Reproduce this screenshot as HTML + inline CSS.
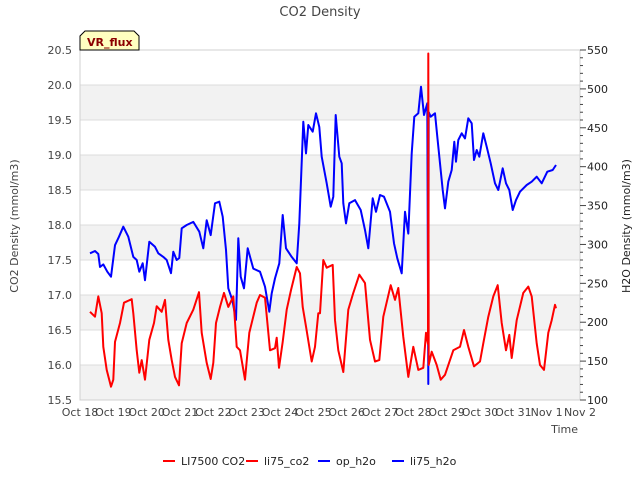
<!DOCTYPE html>
<html><head><meta charset="utf-8"><style>
body{margin:0;background:#fff;font-family:"Liberation Sans","DejaVu Sans",sans-serif}
svg text{font-family:"DejaVu Sans","Liberation Sans",sans-serif}
</style></head><body>
<svg id="chart" width="640" height="480" xmlns="http://www.w3.org/2000/svg">
<text x="320" y="16" text-anchor="middle" font-size="13" fill="#444">CO2 Density</text>
<g id="grid"></g><g id="series"></g><g id="axes"></g>
<text transform="translate(18,226) rotate(-90)" text-anchor="middle" font-size="11" fill="#444">CO2 Density (mmol/m3)</text>
<text transform="translate(630,226) rotate(-90)" text-anchor="middle" font-size="11" fill="#222">H2O Density (mmol/m3)</text>
<text x="578" y="433" text-anchor="end" font-size="11" fill="#444">Time</text>
<g><path d="M80,50 L80,36 L85,31 L134,31 L139,36 L139,50 Z" fill="#ffffc0" stroke="#000" stroke-width="1"/><text x="87" y="46" font-size="11" font-weight="bold" fill="#8b0000">VR_flux</text></g>
<g id="legend"></g>
</svg>
<script>
const xTickLabels=["Oct 18","Oct 19","Oct 20","Oct 21","Oct 22","Oct 23","Oct 24","Oct 25","Oct 26","Oct 27","Oct 28","Oct 29","Oct 30","Oct 31","Nov 1","Nov 2"];
const yTicks=[15.5,16.0,16.5,17.0,17.5,18.0,18.5,19.0,19.5,20.0,20.5];
const y2Ticks=[100,150,200,250,300,350,400,450,500,550];
const co2T=[0.3,0.45,0.55,0.65,0.7,0.8,0.93,1.0,1.05,1.2,1.32,1.55,1.6,1.7,1.78,1.85,1.95,2.08,2.22,2.3,2.45,2.55,2.65,2.75,2.85,2.97,3.05,3.2,3.4,3.57,3.65,3.8,3.92,4.0,4.08,4.2,4.32,4.45,4.6,4.7,4.8,4.95,5.08,5.3,5.4,5.55,5.7,5.85,5.9,5.97,6.08,6.2,6.33,6.5,6.6,6.68,6.78,6.95,7.05,7.15,7.2,7.3,7.4,7.58,7.65,7.75,7.9,8.05,8.2,8.38,8.55,8.7,8.85,8.98,9.1,9.32,9.45,9.55,9.7,9.85,10.0,10.15,10.3,10.38,10.44,10.45,10.46,10.55,10.7,10.82,10.95,11.2,11.4,11.52,11.65,11.82,12.0,12.1,12.25,12.4,12.53,12.65,12.78,12.88,12.95,13.1,13.3,13.45,13.55,13.7,13.8,13.92,14.05,14.15,14.25,14.28];
const co2V=[16.76,16.69,16.98,16.74,16.26,15.93,15.69,15.79,16.33,16.6,16.89,16.94,16.74,16.21,15.89,16.07,15.79,16.36,16.6,16.84,16.76,16.93,16.36,16.07,15.83,15.71,16.31,16.6,16.79,17.04,16.46,16.03,15.8,16.03,16.6,16.83,17.03,16.83,16.98,16.26,16.21,15.79,16.46,16.89,17.0,16.96,16.21,16.24,16.39,15.96,16.33,16.79,17.07,17.4,17.31,16.83,16.55,16.05,16.26,16.74,16.74,17.5,17.39,17.43,16.64,16.21,15.9,16.79,17.03,17.29,17.17,16.36,16.05,16.07,16.69,17.14,16.93,17.1,16.4,15.83,16.26,15.93,15.96,16.46,16.3,20.45,16.0,16.19,16.0,15.79,15.86,16.21,16.26,16.5,16.26,15.98,16.05,16.31,16.69,16.98,17.14,16.6,16.21,16.43,16.1,16.64,17.03,17.12,16.98,16.31,16.0,15.93,16.46,16.64,16.86,16.81];
const h2oT=[0.3,0.45,0.55,0.6,0.7,0.82,0.93,1.05,1.17,1.3,1.45,1.6,1.7,1.78,1.88,1.95,2.08,2.25,2.35,2.5,2.6,2.73,2.8,2.9,2.98,3.05,3.2,3.4,3.58,3.7,3.8,3.92,4.05,4.18,4.28,4.38,4.45,4.57,4.68,4.75,4.82,4.92,5.03,5.2,5.4,5.55,5.68,5.75,5.85,5.98,6.08,6.18,6.35,6.5,6.58,6.7,6.78,6.85,6.98,7.08,7.18,7.25,7.4,7.52,7.6,7.67,7.78,7.85,7.9,7.98,8.08,8.25,8.42,8.55,8.65,8.78,8.88,9.0,9.12,9.3,9.42,9.52,9.65,9.75,9.85,9.95,10.03,10.15,10.23,10.32,10.42,10.45,10.46,10.52,10.65,10.72,10.88,10.95,11.05,11.15,11.23,11.28,11.35,11.45,11.55,11.65,11.75,11.82,11.9,11.98,12.1,12.2,12.32,12.45,12.55,12.68,12.78,12.88,12.98,13.08,13.2,13.4,13.55,13.7,13.85,14.02,14.18,14.28];
const h2oV=[288.6,291.6,287.7,271,274.4,265,258.5,299,310,322.8,310,284,280,265,275.8,254,303.5,297,288.6,284,280,263,290.7,280,282.6,320.8,325,329,316.4,295,331,312,352.9,355,335.7,293,243.6,228.6,203,308,258.5,243.6,295,269,265,245.7,213.5,237,256.4,275.8,337.9,295,284,275.8,327,457.8,417,453.6,445,468.6,451,412.8,378.6,348.5,361.4,466.4,412.8,404.3,352.9,327,352.9,357,344.3,318.6,295,359.3,342,363.6,361.4,342,301.5,282.2,262.9,342,314,417,464.2,468.6,502.8,466.4,481.5,120.6,470,464.2,468.6,438.5,370,346.4,380.7,395.7,432,406.4,434.3,442.9,436.4,462.2,455.8,408.6,421.4,412.8,442.9,425.7,404.3,378.6,370,397.9,378.6,370,344.3,357,367.8,376.4,380.7,387.1,378.6,393.5,395.7,402.1];

const L=80,R=580,T=50,B=400,NS="http://www.w3.org/2000/svg";
const xs=t=>L+t*(R-L)/15;
const yl=v=>B-(v-15.5)*(B-T)/5;
const yr=v=>B-(v-100)*(B-T)/450;
function mk(tag,attrs,parent){const e=document.createElementNS(NS,tag);for(const k in attrs)e.setAttribute(k,attrs[k]);parent.appendChild(e);return e;}
const grid=document.getElementById('grid'),axes=document.getElementById('axes'),series=document.getElementById('series'),legend=document.getElementById('legend');
for(let i=0;i<yTicks.length-1;i++){if(i%2===0){const b=mk('rect',{x:L,y:yl(yTicks[i+1]),width:R-L,height:yl(yTicks[i])-yl(yTicks[i+1]),fill:'#f2f2f2'},grid);}}
yTicks.forEach(v=>{const l=mk('line',{x1:L,x2:R,y1:yl(v),y2:yl(v),stroke:'#dcdcdc','stroke-width':1},grid);
const t=mk('text',{x:L-8,y:yl(v)+4,'text-anchor':'end','font-size':11,fill:'#444'},axes);t.textContent=v.toFixed(1);});
mk('rect',{x:L,y:T,width:R-L,height:B-T,fill:'none',stroke:'#d0d0d0'},axes);
y2Ticks.forEach(v=>{const t=mk('text',{x:R+7,y:yr(v)+4,'font-size':11,fill:'#222'},axes);t.textContent=v;});
for(let v=100;v<=550;v+=10){const big=v%50===0;mk('line',{x1:R,x2:R+(big?6:3),y1:yr(v),y2:yr(v),stroke:'#444','stroke-width':1},axes);}
xTickLabels.forEach((s,i)=>{const t=mk('text',{x:xs(i),y:416,'text-anchor':'middle','font-size':11,fill:'#444'},axes);t.textContent=s;});
const pb=h2oT.map((t,i)=>xs(t).toFixed(1)+','+yr(h2oV[i]).toFixed(1)).join(' ');
const blue=mk('polyline',{points:pb,fill:'none',stroke:'#0000ff','stroke-width':2,'stroke-linejoin':'round'},series);

const pr=co2T.map((t,i)=>xs(t).toFixed(1)+','+yl(co2V[i]).toFixed(1)).join(' ');
const red=mk('polyline',{points:pr,fill:'none',stroke:'#ff0000','stroke-width':2,'stroke-linejoin':'round'},series);

const leg=[["LI7500 CO2","#ff0000",163],["li75_co2","#ff0000",246],["op_h2o","#0000ff",318],["li75_h2o","#0000ff",392]];
leg.forEach(([s,c,x])=>{const g=mk('g',{},legend);
mk('line',{x1:x,x2:x+12,y1:461,y2:461,stroke:c,'stroke-width':2},g);const t=mk('text',{x:x+18,y:465,'font-size':11,fill:'#222'},g);t.textContent=s;});
</script>
</body></html>
